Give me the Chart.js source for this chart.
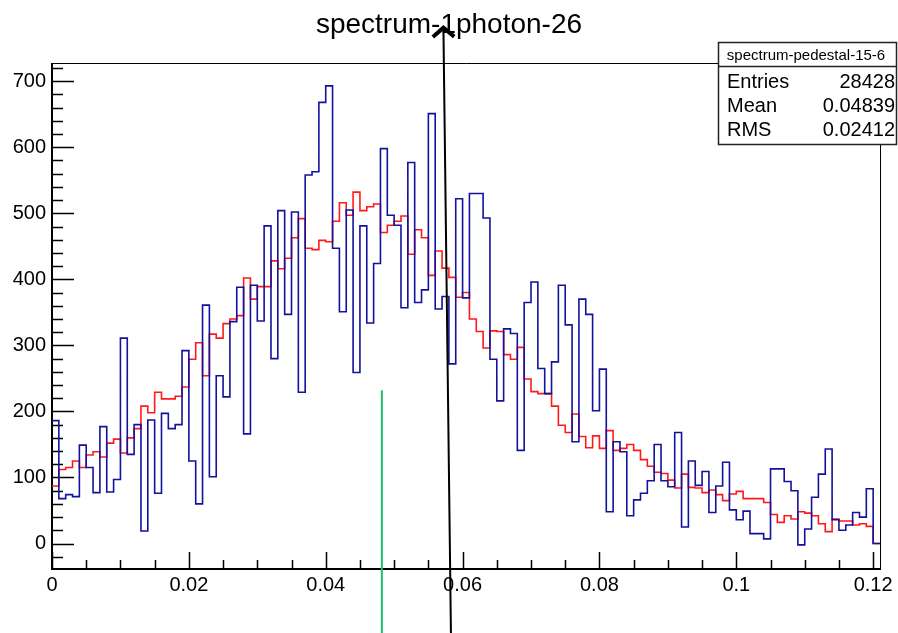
<!DOCTYPE html>
<html>
<head>
<meta charset="utf-8">
<script src="https://cdn.jsdelivr.net/npm/chart.js@4.4.0/dist/chart.umd.min.js"></script>
<style>
  body { margin: 0; background: #fff; }
  #wrap { width: 898px; height: 633px; }
</style>
</head>
<body>
<div id="wrap"><canvas id="spectrum" width="898" height="633"></canvas></div>
<script>
// ------------------ Data ------------------
const binWidth = 0.001;
const xTickValues = [0, 0.02, 0.04, 0.06, 0.08, 0.1, 0.12];
const yTickValues = [0, 100, 200, 300, 400, 500, 600, 700];

// blue histogram (one value per 0.001 bin, starting at 0)
const photonCounts = [
  186, 68, 74, 71, 149, 115, 77, 177, 78, 97,
  311, 135, 180, 19, 187, 76, 197, 174, 180, 292,
  125, 60, 361, 101, 254, 222, 336, 388, 166, 391,
  337, 481, 280, 504, 347, 502, 229, 558, 563, 668,
  693, 447, 351, 505, 259, 481, 334, 424, 598, 497,
  482, 357, 577, 365, 384, 651, 355, 374, 272, 522,
  372, 530, 530, 493, 279, 216, 325, 318, 141, 365,
  396, 265, 227, 275, 391, 331, 154, 370, 347, 201,
  264, 48, 154, 139, 42, 66, 76, 95, 150, 95,
  86, 168, 25, 125, 88, 109, 47, 87, 123, 51,
  36, 49, 15, 15, 7, 113, 113, 94, 80, -2,
  22, 70, 105, 143, 36, 20, 28, 47, 40, 83,
  0
];

// red histogram (spectrum-pedestal-15-6)
const pedestalCounts = [
  87, 112, 115, 125, 115, 134, 139, 131, 152, 158,
  137, 160, 174, 208, 198, 229, 219, 219, 223, 237,
  279, 304, 254, 317, 311, 333, 340, 345, 402, 370,
  389, 389, 428, 416, 432, 463, 492, 447, 445, 459,
  457, 488, 516, 497, 532, 504, 510, 514, 471, 482,
  488, 496, 438, 475, 463, 406, 443, 417, 403, 373,
  380, 340, 321, 296, 322, 321, 286, 279, 297, 249,
  230, 227, 227, 208, 179, 168, 196, 162, 145, 163,
  144, 171, 141, 144, 150, 141, 127, 117, 108, 106,
  96, 84, 105, 85, 84, 77, 81, 74, 65, 75,
  79, 68, 68, 68, 62, 44, 32, 42, 37, 48,
  46, 42, 30, 18, 37, 34, 34, 28, 30, 26,
  0
];

// stats box
const statsTitle = 'spectrum-pedestal-15-6';
const statsLabels = ['Entries', 'Mean', 'RMS'];
const statsValues = ['28428', '0.04839', '0.02412'];

// overlay marks, in data units [x, y]
const meanLineTop = [0.0482, 232];
const meanLineBottom = [0.0482, -140];
const arrowFrom = [0.0583, -136];
const arrowTo = [0.0572, 781];

// ------------------ Helpers ------------------
function toSteps(counts) {
    const pts = counts.map((c, i) => ({ x: i * binWidth, y: c }));
    pts.push({ x: counts.length * binWidth, y: counts[counts.length - 1] });
    return pts;
}

const FONT = '"Liberation Sans", Arial, sans-serif';

// frame + ROOT style inside ticks
const framePlugin = {
    id: 'rootFrame',
    beforeDatasetsDraw(chart) {
        const { ctx, chartArea: a, scales: { x, y } } = chart;
        ctx.save();
        ctx.strokeStyle = '#000';

        // top / right frame
        ctx.lineWidth = 1;
        ctx.beginPath();
        ctx.moveTo(a.left, a.top + 0.5);
        ctx.lineTo(a.right + 0.5, a.top + 0.5);
        ctx.lineTo(a.right + 0.5, a.bottom);
        ctx.stroke();

        // y ticks
        ctx.lineWidth = 1.5;
        ctx.beginPath();
        for (let v = -20; v <= 720; v += 20) {
            const py = Math.round(y.getPixelForValue(v)) + 0.5;
            if (py < a.top || py > a.bottom) continue;
            const len = (v % 100 === 0) ? 22 : 11;
            ctx.moveTo(a.left, py);
            ctx.lineTo(a.left + len, py);
        }
        // x ticks
        for (let k = 0; k <= 24; k++) {
            const v = k * 0.005;
            const px = Math.round(x.getPixelForValue(v)) + 0.5;
            const len = (k % 4 === 0) ? 17 : 9;
            ctx.moveTo(px, a.bottom);
            ctx.lineTo(px, a.bottom - len);
        }
        ctx.stroke();

        // axis lines
        ctx.lineWidth = 2;
        ctx.beginPath();
        ctx.moveTo(a.left, a.top);
        ctx.lineTo(a.left, a.bottom);
        ctx.lineTo(a.right + 1, a.bottom);
        ctx.stroke();
        ctx.restore();
    }
};

// title, stats box, mean line, arrow
const overlayPlugin = {
    id: 'overlays',
    afterDraw(chart) {
        const { ctx, scales: { x, y } } = chart;
        ctx.save();

        // title
        ctx.fillStyle = '#000';
        ctx.font = '28px ' + FONT;
        ctx.textAlign = 'center';
        ctx.textBaseline = 'alphabetic';
        ctx.fillText('spectrum-1photon-26', 449, 33);

        // stats box
        ctx.fillStyle = '#fff';
        ctx.fillRect(718, 42, 179, 102);
        ctx.strokeStyle = '#222';
        ctx.lineWidth = 1.5;
        ctx.strokeRect(718.5, 42.5, 178, 102);
        ctx.beginPath();
        ctx.moveTo(718.5, 66.5);
        ctx.lineTo(896.5, 66.5);
        ctx.stroke();

        ctx.fillStyle = '#000';
        ctx.font = '15px ' + FONT;
        ctx.fillText(statsTitle, 806, 60);
        ctx.font = '20px ' + FONT;
        statsLabels.forEach((lab, i) => {
            const by = 88 + i * 24;
            ctx.textAlign = 'left';
            ctx.fillText(lab, 727, by);
            ctx.textAlign = 'right';
            ctx.fillText(statsValues[i], 895, by);
        });

        // green mean line
        ctx.strokeStyle = '#1fbf6c';
        ctx.lineWidth = 2;
        ctx.beginPath();
        ctx.moveTo(x.getPixelForValue(meanLineTop[0]), y.getPixelForValue(meanLineTop[1]));
        ctx.lineTo(x.getPixelForValue(meanLineBottom[0]), y.getPixelForValue(meanLineBottom[1]));
        ctx.stroke();

        // black arrow
        const x0 = x.getPixelForValue(arrowFrom[0]), y0 = y.getPixelForValue(arrowFrom[1]);
        const x1 = x.getPixelForValue(arrowTo[0]), y1 = y.getPixelForValue(arrowTo[1]);
        ctx.strokeStyle = '#000';
        ctx.lineWidth = 2;
        ctx.beginPath();
        ctx.moveTo(x0, y0);
        ctx.lineTo(x1, y1);
        ctx.stroke();

        const ang = Math.atan2(y0 - y1, x0 - x1);
        const arm = 14, spread = 0.87;
        ctx.lineWidth = 4;
        ctx.lineJoin = 'miter';
        ctx.beginPath();
        ctx.moveTo(x1 + arm * Math.cos(ang - spread), y1 + arm * Math.sin(ang - spread));
        ctx.lineTo(x1, y1);
        ctx.lineTo(x1 + arm * Math.cos(ang + spread), y1 + arm * Math.sin(ang + spread));
        ctx.stroke();

        ctx.restore();
    }
};

// ------------------ Chart ------------------
const ctx = document.getElementById('spectrum').getContext('2d');

new Chart(ctx, {
    type: 'line',
    data: {
        datasets: [
            {
                label: 'spectrum-1photon-26',
                data: toSteps(photonCounts),
                borderColor: '#12129c',
                borderWidth: 1.6,
                stepped: 'before',
                pointRadius: 0,
                fill: false
            },
            {
                label: statsTitle,
                data: toSteps(pedestalCounts),
                borderColor: '#ff1a1a',
                borderWidth: 1.6,
                stepped: 'before',
                pointRadius: 0,
                fill: false
            }
        ]
    },
    options: {
        responsive: false,
        animation: false,
        layout: { padding: { top: 63, right: 18, left: 0, bottom: 0 } },
        plugins: {
            legend: { display: false },
            title: { display: false },
            tooltip: { enabled: false }
        },
        scales: {
            x: {
                type: 'linear',
                min: 0,
                max: 0.121,
                grid: { display: false, drawTicks: false },
                border: { display: false },
                afterBuildTicks: s => { s.ticks = xTickValues.map(v => ({ value: v })); },
                afterFit: s => { s.height = 64; },
                ticks: {
                    autoSkip: false,
                    maxRotation: 0,
                    padding: 4,
                    color: '#000',
                    font: { family: FONT, size: 20 },
                    callback: v => String(parseFloat(v.toFixed(4)))
                }
            },
            y: {
                type: 'linear',
                min: -38.6,
                max: 727.6,
                grid: { display: false, drawTicks: false },
                border: { display: false },
                afterBuildTicks: s => { s.ticks = yTickValues.map(v => ({ value: v })); },
                afterFit: s => { s.width = 52; },
                ticks: {
                    padding: 6,
                    color: '#000',
                    font: { family: FONT, size: 20 },
                    callback: v => String(v)
                }
            }
        }
    },
    plugins: [framePlugin, overlayPlugin]
});
</script>
</body>
</html>
